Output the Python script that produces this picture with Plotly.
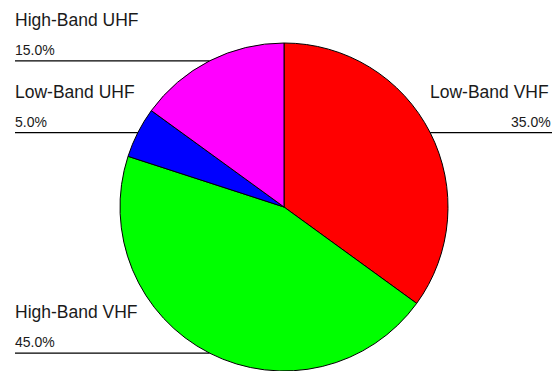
import math
import plotly.graph_objects as go

# Frequency band shares (clockwise from 12 o'clock)
bands = ["Low-Band VHF", "High-Band VHF", "Low-Band UHF", "High-Band UHF"]
shares = [35.0, 45.0, 5.0, 15.0]
colors = ["#ff0000", "#00ff00", "#0000ff", "#ff00ff"]

W, H = 555, 371
CX, CY, R = 284, 207, 164          # pie centre and radius in pixels
LEFT_X, RIGHT_X = 15, 552          # ends of the leader lines

def px(x):
    return x / W

def py(y):
    return 1 - y / H

fig = go.Figure(go.Pie(
    labels=bands,
    values=shares,
    sort=False,
    direction="clockwise",
    rotation=0,
    marker=dict(colors=colors, line=dict(color="black", width=1)),
    textinfo="none",
    hoverinfo="label+percent",
    showlegend=False,
    domain=dict(x=[px(CX - R), px(CX + R)], y=[py(CY + R), py(CY - R)]),
))

shapes, annotations = [], []
total = sum(shares)
cum = 0.0
for name, val in zip(bands, shares):
    mid = (cum + val / 2) / total * 2 * math.pi
    cum += val
    ex = CX + R * math.sin(mid)
    ey = CY - R * math.cos(mid)
    right = math.sin(mid) > 0
    x_end = RIGHT_X if right else LEFT_X
    shapes.append(dict(type="line", xref="paper", yref="paper",
                       x0=px(ex), y0=py(ey), x1=px(x_end), y1=py(ey),
                       line=dict(color="black", width=1.3)))
    tx = x_end + (1 if right else -2)
    anchor = "right" if right else "left"
    annotations.append(dict(xref="paper", yref="paper", x=px(tx - (2 if right else 0)), y=py(ey - 41),
                            text=name, showarrow=False, xanchor=anchor, yanchor="middle",
                            font=dict(family="Liberation Sans, Arial", size=17.5, color="#1a1a1a")))
    annotations.append(dict(xref="paper", yref="paper", x=px(tx), y=py(ey - 11),
                            text=f"{val / total * 100:.1f}%", showarrow=False,
                            xanchor=anchor, yanchor="middle",
                            font=dict(family="Liberation Sans, Arial", size=14, color="#1a1a1a")))

fig.update_layout(
    width=W, height=H,
    margin=dict(l=0, r=0, t=0, b=0),
    paper_bgcolor="white", plot_bgcolor="white",
    shapes=shapes, annotations=annotations,
)

fig.write_html("out.html")
